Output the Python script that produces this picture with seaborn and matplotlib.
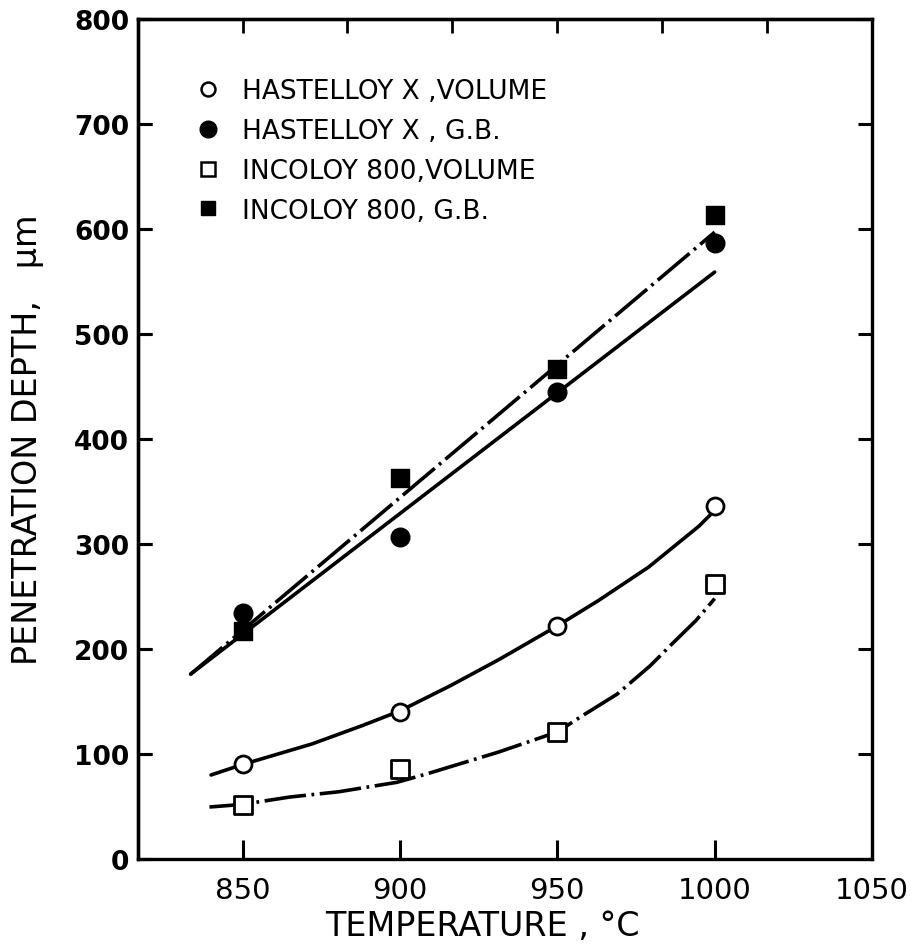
import numpy as np
import pandas as pd
import matplotlib
matplotlib.use("Agg")
import matplotlib.pyplot as plt
import seaborn as sns
from matplotlib.lines import Line2D

# ---- data ----
temperature = [850, 900, 950, 1000]
hx_volume = [90, 140, 222, 336]
hx_gb = [234, 307, 445, 587]
in_volume = [51, 86, 121, 262]
in_gb = [217, 363, 467, 613]

# hand-drawn fit curves
hx_gb_fit_t = [833.5, 1000]
hx_gb_fit_d = [176, 559]
in_gb_fit_t = [833.5, 1000]
in_gb_fit_d = [176, 597]
hx_vol_fit_t = [840, 850, 872, 888, 900, 916, 931.5, 950, 963, 979, 995, 999]
hx_vol_fit_d = [80, 90, 109.5, 127, 141, 165, 190, 222, 246, 278, 317, 329]
in_vol_fit_t = [839.5, 850, 865, 880.5, 899, 908.5, 931.5, 950, 958, 969,
                979.5, 986.5, 994, 1000]
in_vol_fit_d = [49.5, 52, 59, 64, 73, 81, 102, 121, 136.5, 157,
                184, 205, 227, 248]

labels = ["HASTELLOY X ,VOLUME", "HASTELLOY X , G.B.",
          "INCOLOY 800,VOLUME", "INCOLOY 800, G.B."]
x_ticks = [850, 900, 950, 1000, 1050]
top_ticks = [850, 883.33, 916.67, 950, 983.33, 1016.67]
y_ticks = [0, 100, 200, 300, 400, 500, 600, 700, 800]

sns.set_theme(style="white")
plt.rcParams["font.family"] = ["DejaVu Sans"]
plt.rcParams["lines.scale_dashes"] = False
plt.rcParams["text.color"] = "black"
plt.rcParams["axes.labelcolor"] = "black"
plt.rcParams["xtick.color"] = "black"
plt.rcParams["ytick.color"] = "black"
plt.rcParams["ytick.left"] = True
plt.rcParams["ytick.right"] = True
plt.rcParams["xtick.bottom"] = True
plt.rcParams["xtick.direction"] = "in"
plt.rcParams["ytick.direction"] = "in"

fig = plt.figure(figsize=(9.18, 9.53), dpi=100)
ax = fig.add_axes([0.150, 0.0976, 0.800, 0.8814])

lw = 2.6
dashdot = (0, (30, 4, 2, 4))

sns.lineplot(x=hx_gb_fit_t, y=hx_gb_fit_d, ax=ax, color="black", lw=lw,
             solid_capstyle="round", legend=False)
sns.lineplot(x=in_gb_fit_t, y=in_gb_fit_d, ax=ax, color="black", lw=lw,
             linestyle=dashdot, legend=False)
sns.lineplot(x=hx_vol_fit_t, y=hx_vol_fit_d, ax=ax, color="black", lw=lw,
             sort=False, solid_capstyle="round", solid_joinstyle="round",
             legend=False)
sns.lineplot(x=in_vol_fit_t, y=in_vol_fit_d, ax=ax, color="black", lw=lw,
             sort=False, linestyle=dashdot, legend=False)

ms = 150
sns.scatterplot(x=temperature, y=hx_volume, ax=ax, marker="o", s=ms,
                facecolor="white", edgecolor="black", linewidth=2, zorder=5)
sns.scatterplot(x=temperature, y=hx_gb, ax=ax, marker="o", s=ms + 30,
                color="black", edgecolor="black", linewidth=1, zorder=5)
sns.scatterplot(x=temperature, y=in_volume, ax=ax, marker="s", s=ms,
                facecolor="white", edgecolor="black", linewidth=2, zorder=5)
sns.scatterplot(x=temperature, y=in_gb, ax=ax, marker="s", s=ms + 30,
                color="black", edgecolor="black", linewidth=1, zorder=5)

ax.set_xlim(816.7, 1050)
ax.set_ylim(0, 800)
ax.set_xticks(x_ticks)
ax.set_yticks(y_ticks)
ax.set_yticklabels([str(v) for v in y_ticks], fontweight="bold")
for sp in ax.spines.values():
    sp.set_linewidth(2.4)
    sp.set_color("black")

top = ax.secondary_xaxis("top")
top.set_xticks(top_ticks)
top.set_xticklabels([])
top.tick_params(direction="in", length=10, width=2)
top.spines["top"].set_linewidth(2.4)

# inward ticks along the left spine
left = ax.secondary_yaxis("left")
left.set_yticks(y_ticks)
left.set_yticklabels([])
left.tick_params(direction="in", length=10, width=2.2, color="black")
left.spines["left"].set_linewidth(2.4)
left.spines["left"].set_color("black")

ax.set_xlabel("TEMPERATURE , °C", fontsize=24, labelpad=4, x=0.47)
ax.set_ylabel("PENETRATION DEPTH,   \u03bcm", fontsize=24, labelpad=22)

handles = [
    Line2D([], [], marker="o", ls="none", mfc="white", mec="black", mew=1.8, ms=10),
    Line2D([], [], marker="o", ls="none", mfc="black", mec="black", ms=12),
    Line2D([], [], marker="s", ls="none", mfc="white", mec="black", mew=1.8, ms=9.5),
    Line2D([], [], marker="s", ls="none", mfc="black", mec="black", ms=10.5),
]
ax.legend(handles, labels, loc="upper left", bbox_to_anchor=(0.06, 0.945),
          frameon=False, fontsize=19, handlelength=1.0, handletextpad=0.8,
          labelspacing=0.52, borderpad=0)

ax.xaxis.set_ticks_position("bottom")
ax.yaxis.set_ticks_position("both")
ax.tick_params(axis="x", which="major", direction="in", length=14, width=2.2,
               labelsize=21, pad=12, bottom=True)
ax.tick_params(axis="y", which="major", direction="in", length=10, width=2.2,
               labelsize=19, pad=6, left=True, right=True)

fig.savefig("out.png", dpi=100)
